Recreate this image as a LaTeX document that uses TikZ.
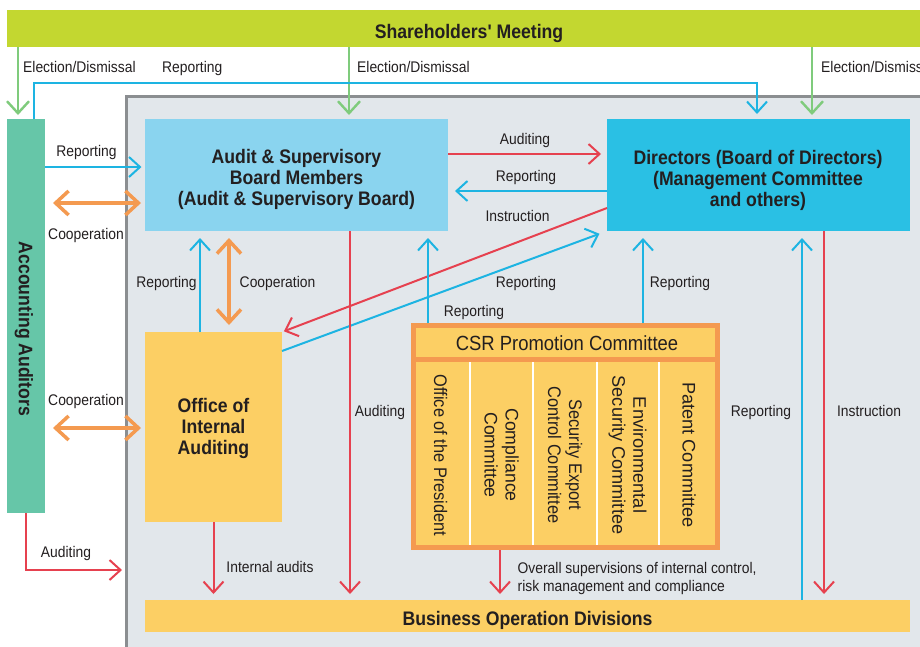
\documentclass[tikz,border=0pt]{standalone}
\usepackage{fontspec}
\setmainfont[FakeStretch=0.9, Ligatures=TeXOff]{Liberation Sans}
\usetikzlibrary{arrows.meta}
\definecolor{shgreen}{HTML}{C3D730}
\definecolor{aagreen}{HTML}{66C6A8}
\definecolor{asblue}{HTML}{8AD4EF}
\definecolor{dirblue}{HTML}{2AC0E4}
\definecolor{oyellow}{HTML}{FCCF64}
\definecolor{csrorange}{HTML}{F49A50}
\definecolor{bggray}{HTML}{E2E7EB}
\definecolor{bordergray}{HTML}{8B8E91}
\definecolor{lgreen}{HTML}{7FCB7C}
\definecolor{lblue}{HTML}{1DB4E2}
\definecolor{lred}{HTML}{E6414F}
\definecolor{txt}{HTML}{231F20}
\begin{document}
\begin{tikzpicture}[x=1pt,y=-1pt,
  box/.style={inner sep=0pt, outer sep=0pt, anchor=north west},
  btext/.style={inner sep=0pt, text=txt, align=center, font=\bfseries\fontsize{19.6}{21}\selectfont},
  ctext/.style={inner sep=0pt, text=txt, align=center, rotate=-90, font=\fontsize{18.2}{21}\selectfont},
  lbl/.style={inner sep=0pt, text=txt, anchor=base, font=\fontsize{15.4}{18.5}\selectfont},
  garr/.style={draw=lgreen, line width=2.4pt, -{Straight Barb[length=12pt,width=22pt]}},
  barr/.style={draw=lblue, line width=2pt, -{Straight Barb[length=11pt,width=20pt]}},
  rarr/.style={draw=lred, line width=2pt, -{Straight Barb[length=11pt,width=20pt]}},
  oarr/.style={draw=csrorange, line width=3.5pt, {Straight Barb[length=13pt,width=24pt]}-{Straight Barb[length=13pt,width=24pt]}}
]
\useasboundingbox (0,0) rectangle (920,646);
\fill[white] (0,0) rectangle (920,646);

% background region
\node[box, draw=bordergray, line width=3pt, fill=bggray, minimum width=830pt, minimum height=600pt] (ctl) at (126.5,96) {};

% main boxes
\node[box, fill=shgreen, minimum width=924pt, minimum height=37pt] (sh) at (7,10) {};
\node[btext] (shT) at (469,33.2) {Shareholders' Meeting};

\node[box, fill=aagreen, minimum width=38pt, minimum height=394pt] (aa) at (7,119) {};
\node[btext, rotate=-90] (aaT) at (24,329) {Accounting Auditors};

\node[box, fill=asblue, minimum width=303pt, minimum height=112pt] (asb) at (145,119) {};
\node[btext] (asbT) at (296.5,179.5) {Audit \& Supervisory\\Board Members\\(Audit \& Supervisory Board)};

\node[box, fill=dirblue, minimum width=303pt, minimum height=112pt] (dir) at (607,119) {};
\node[btext] (dirT) at (758,180.5) {Directors (Board of Directors)\\(Management Committee\\and others)};

\node[box, fill=oyellow, minimum width=137pt, minimum height=190pt] (oia) at (145,332) {};
\node[btext] (oiaT) at (213.5,428.8) {Office of\\Internal\\Auditing};

\node[box, fill=oyellow, minimum width=765pt, minimum height=32pt] (bod) at (145,600) {};
\node[btext] (bodT) at (527.5,620) {Business Operation Divisions};

% CSR committee
\node[box, draw=csrorange, line width=5pt, fill=oyellow, minimum width=304pt, minimum height=221.7pt, outer sep=2.5pt] (csr) at (411,323.3) {};
\draw[csrorange, line width=5pt] (csr.west |- 0,359) -- (csr.east |- 0,359);
\foreach \xx in {470,533,597,659} \draw[white, line width=1.8pt] (\xx,362) -- (\xx,545);
\node[inner sep=0pt, text=txt, font=\fontsize{20.5}{24}\selectfont] (csrT) at (567,343) {CSR Promotion Committee};
\node[ctext] (c1) at (440.5,455.5) {Office of the President};
\node[ctext] (c2) at (501.5,455) {\scalebox{1.08}[1]{Compliance}\\\scalebox{1.08}[1]{Committee}};
\node[ctext] (c3) at (565,455) {Security Export\\Control Committee};
\node[ctext] (c4) at (627.5,455) {\scalebox{1.11}[1]{Environmental}\\\scalebox{1.11}[1]{Security Committee}};
\node[ctext] (c5) at (689,455) {\scalebox{1.11}[1]{Patent Committee}};

% Shareholders arrows
\draw[garr, shorten >=4pt] (sh.south -| 18,0) -- (aa.north -| 18,0);
\draw[garr, shorten >=4pt] (sh.south -| 349,0) -- (asb.north -| 349,0);
\draw[garr, shorten >=4pt] (sh.south -| 812,0) -- (dir.north -| 812,0);
\draw[barr, shorten >=5pt] (aa.north -| 34,0) -- (34,83) -- (757,83) -- (dir.north -| 757,0);
\node[lbl, anchor=base west] (l1) at (23,72) {Election/Dismissal};
\node[lbl, anchor=base west] (l2) at (162,72) {Reporting};
\node[lbl, anchor=base west] (l3) at (357,72) {Election/Dismissal};
\node[lbl, anchor=base west] (l4) at (821,72) {Election/Dismissal};

% accounting auditors
\draw[barr, shorten >=3.5pt] (aa.east |- 0,167) -- (asb.west |- 0,167);
\draw[oarr, shorten <=8pt, shorten >=4pt] (aa.east |- 0,203) -- (asb.west |- 0,203);
\draw[oarr, shorten <=8pt, shorten >=4pt] (aa.east |- 0,428) -- (oia.west |- 0,428);
\draw[rarr, shorten >=4.5pt] (aa.south) -- (26,570) -- (ctl.west |- 0,570);
\node[lbl] (l5) at (86.5,156) {Reporting};
\node[lbl] (l6) at (86,239) {Cooperation};
\node[lbl] (l7) at (86,405) {Cooperation};
\node[lbl] (l8) at (66,557) {Auditing};

% audit board <-> directors
\draw[rarr, shorten >=6pt] (asb.east |- 0,154) -- (dir.west |- 0,154);
\draw[barr, shorten >=7pt] (dir.west |- 0,191) -- (asb.east |- 0,191);
\draw[rarr, shorten >=2pt] (dir.west |- 0,208) -- (oia.north east);
\draw[barr, shorten >=8pt] (oia.east |- 0,351) -- (dir.south west);
\node[lbl] (l9) at (525,144) {Auditing};
\node[lbl] (l10) at (526,181.5) {Reporting};
\node[lbl] (l11) at (517.5,221) {Instruction};
\node[lbl] (l12) at (526,287) {Reporting};

% office of internal auditing
\draw[barr, shorten >=7pt] (oia.north -| 200,0) -- (asb.south -| 200,0);
\draw[oarr, shorten <=7pt, shorten >=7pt] (asb.south -| 229,0) -- (oia.north -| 229,0);
\draw[rarr, shorten >=6pt] (oia.south) -- (bod.north -| oia.south);
\node[lbl] (l13) at (166.5,287) {Reporting};
\node[lbl] (l14) at (277.5,287) {Cooperation};
\node[lbl] (l15) at (270,572) {Internal audits};

% vertical connectors
\draw[rarr, shorten >=6pt] (asb.south -| 350,0) -- (bod.north -| 350,0);
\draw[barr, shorten >=7pt] (csr.north -| 428,0) -- (asb.south -| 428,0);
\draw[barr, shorten >=7pt] (csr.north -| 643,0) -- (dir.south -| 643,0);
\draw[barr, shorten >=7pt] (bod.north -| 802,0) -- (dir.south -| 802,0);
\draw[rarr, shorten >=6pt] (dir.south -| 824,0) -- (bod.north -| 824,0);
\draw[rarr, shorten >=6pt] (csr.south -| 500,0) -- (bod.north -| 500,0);
\node[lbl] (l16) at (380,416) {Auditing};
\node[lbl] (l17) at (474,316.5) {Reporting};
\node[lbl] (l18) at (680,287) {Reporting};
\node[lbl] (l19) at (761,416) {Reporting};
\node[lbl] (l20) at (869,416) {Instruction};
\node[lbl, anchor=base west] (l21) at (517.5,573) {Overall supervisions of internal control,};
\node[lbl, anchor=base west] (l22) at (517.5,591.5) {risk management and compliance};
\end{tikzpicture}
\end{document}
